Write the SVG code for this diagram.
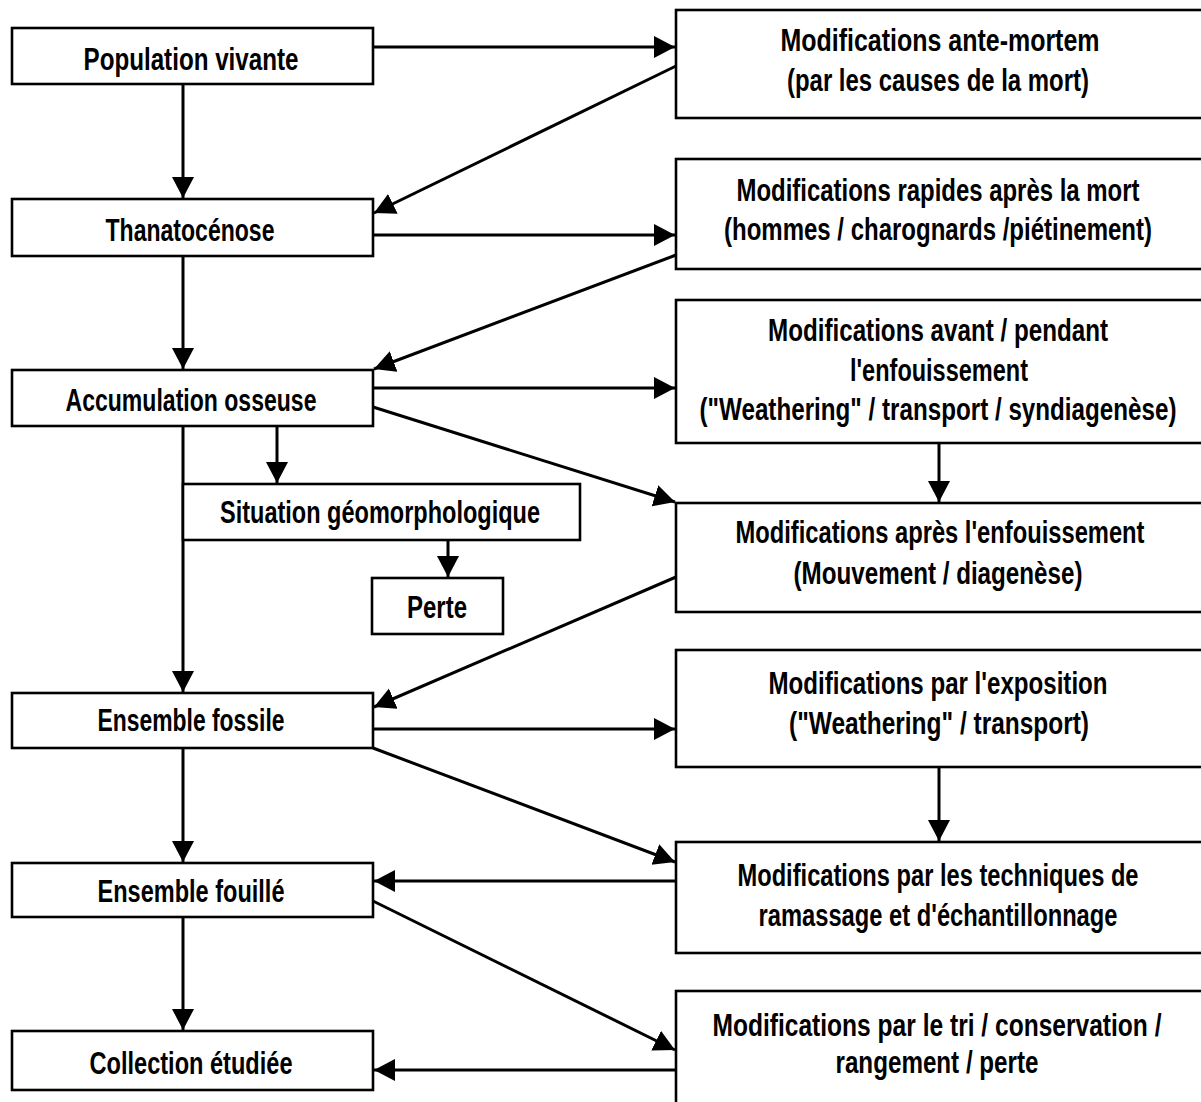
<svg xmlns="http://www.w3.org/2000/svg" width="1201" height="1102" viewBox="0 0 1201 1102">
<style>
  .box { fill: #fff; stroke: #000; stroke-width: 2.6; }
  .lbl { font-family: "Liberation Sans", Arial, sans-serif; font-weight: bold; font-size: 32px; fill: #000; text-anchor: middle; }
  .con { stroke: #000; stroke-width: 3; fill: none; marker-end: url(#ah); }
</style>
<defs>
  <marker id="ah" markerUnits="userSpaceOnUse" markerWidth="23" markerHeight="23" refX="21" refY="11" orient="auto">
    <path d="M0,0 L21,11 L0,22 z" fill="#000"/>
  </marker>
</defs>
<rect width="1201" height="1102" fill="#fff"/>

<g id="connectors">
  <line class="con" x1="183" y1="84" x2="183" y2="198"/>
  <line class="con" x1="183" y1="256" x2="183" y2="369"/>
  <line class="con" x1="183" y1="426" x2="183" y2="692"/>
  <line class="con" x1="183" y1="748" x2="183" y2="862"/>
  <line class="con" x1="183" y1="917" x2="183" y2="1030"/>
  <line class="con" x1="277" y1="426" x2="277" y2="483"/>
  <line class="con" x1="448" y1="540" x2="448" y2="577"/>
  <line class="con" x1="373" y1="47" x2="675" y2="47"/>
  <line class="con" x1="676" y1="66" x2="374" y2="213"/>
  <line class="con" x1="373" y1="235" x2="675" y2="235"/>
  <line class="con" x1="676" y1="255" x2="374" y2="369"/>
  <line class="con" x1="373" y1="388" x2="675" y2="388"/>
  <line class="con" x1="373" y1="407" x2="675" y2="502"/>
  <line class="con" x1="939" y1="443" x2="939" y2="502"/>
  <line class="con" x1="676" y1="577" x2="374" y2="707"/>
  <line class="con" x1="373" y1="729" x2="675" y2="729"/>
  <line class="con" x1="373" y1="748" x2="675" y2="862"/>
  <line class="con" x1="939" y1="767" x2="939" y2="841"/>
  <line class="con" x1="676" y1="881" x2="374" y2="881"/>
  <line class="con" x1="373" y1="901" x2="675" y2="1050"/>
  <line class="con" x1="676" y1="1070" x2="374" y2="1070"/>
</g>

<g id="population">
  <rect class="box" x="12" y="28" width="361" height="56"/>
  <text class="lbl" x="191" y="70" textLength="215" lengthAdjust="spacingAndGlyphs">Population vivante</text>
</g>
<g id="thanatocenose">
  <rect class="box" x="12" y="199" width="361" height="57"/>
  <text class="lbl" x="190" y="241" textLength="169" lengthAdjust="spacingAndGlyphs">Thanatocénose</text>
</g>
<g id="accumulation">
  <rect class="box" x="12" y="370" width="361" height="56"/>
  <text class="lbl" x="191" y="411" textLength="251" lengthAdjust="spacingAndGlyphs">Accumulation osseuse</text>
</g>
<g id="situation">
  <rect class="box" x="183" y="484" width="397" height="56"/>
  <text class="lbl" x="380" y="523" textLength="320" lengthAdjust="spacingAndGlyphs">Situation géomorphologique</text>
</g>
<g id="perte">
  <rect class="box" x="372" y="578" width="131" height="56"/>
  <text class="lbl" x="437" y="618" textLength="60" lengthAdjust="spacingAndGlyphs">Perte</text>
</g>
<g id="ensemble-fossile">
  <rect class="box" x="12" y="693" width="361" height="55"/>
  <text class="lbl" x="191" y="731" textLength="187" lengthAdjust="spacingAndGlyphs">Ensemble fossile</text>
</g>
<g id="ensemble-fouille">
  <rect class="box" x="12" y="863" width="361" height="54"/>
  <text class="lbl" x="191" y="902" textLength="187" lengthAdjust="spacingAndGlyphs">Ensemble fouillé</text>
</g>
<g id="collection">
  <rect class="box" x="12" y="1031" width="361" height="59"/>
  <text class="lbl" x="191" y="1074" textLength="203" lengthAdjust="spacingAndGlyphs">Collection étudiée</text>
</g>

<g id="mod-ante-mortem">
  <rect class="box" x="676" y="10" width="530" height="108"/>
  <text class="lbl" x="940" y="51" textLength="319" lengthAdjust="spacingAndGlyphs">Modifications ante-mortem</text>
  <text class="lbl" x="938" y="91" textLength="302" lengthAdjust="spacingAndGlyphs">(par les causes de la mort)</text>
</g>
<g id="mod-rapides">
  <rect class="box" x="676" y="159" width="530" height="110"/>
  <text class="lbl" x="938" y="201" textLength="403" lengthAdjust="spacingAndGlyphs">Modifications rapides après la mort</text>
  <text class="lbl" x="938" y="240" textLength="428" lengthAdjust="spacingAndGlyphs">(hommes / charognards /piétinement)</text>
</g>
<g id="mod-avant-pendant">
  <rect class="box" x="676" y="300" width="530" height="143"/>
  <text class="lbl" x="938" y="341" textLength="340" lengthAdjust="spacingAndGlyphs">Modifications avant / pendant</text>
  <text class="lbl" x="939" y="381" textLength="178" lengthAdjust="spacingAndGlyphs">l'enfouissement</text>
  <text class="lbl" x="938" y="420" textLength="477" lengthAdjust="spacingAndGlyphs">("Weathering" / transport / syndiagenèse)</text>
</g>
<g id="mod-apres">
  <rect class="box" x="676" y="503" width="530" height="109"/>
  <text class="lbl" x="940" y="543" textLength="409" lengthAdjust="spacingAndGlyphs">Modifications après l'enfouissement</text>
  <text class="lbl" x="938" y="584" textLength="289" lengthAdjust="spacingAndGlyphs">(Mouvement / diagenèse)</text>
</g>
<g id="mod-exposition">
  <rect class="box" x="676" y="650" width="530" height="117"/>
  <text class="lbl" x="938" y="694" textLength="339" lengthAdjust="spacingAndGlyphs">Modifications par l'exposition</text>
  <text class="lbl" x="939" y="734" textLength="300" lengthAdjust="spacingAndGlyphs">("Weathering" / transport)</text>
</g>
<g id="mod-techniques">
  <rect class="box" x="676" y="842" width="530" height="111"/>
  <text class="lbl" x="938" y="886" textLength="401" lengthAdjust="spacingAndGlyphs">Modifications par les techniques de</text>
  <text class="lbl" x="938" y="926" textLength="359" lengthAdjust="spacingAndGlyphs">ramassage et d'échantillonnage</text>
</g>
<g id="mod-tri">
  <rect class="box" x="676" y="991" width="530" height="125"/>
  <text class="lbl" x="937" y="1036" textLength="449" lengthAdjust="spacingAndGlyphs">Modifications par le tri / conservation /</text>
  <text class="lbl" x="937" y="1073" textLength="203" lengthAdjust="spacingAndGlyphs">rangement / perte</text>
</g>
</svg>
